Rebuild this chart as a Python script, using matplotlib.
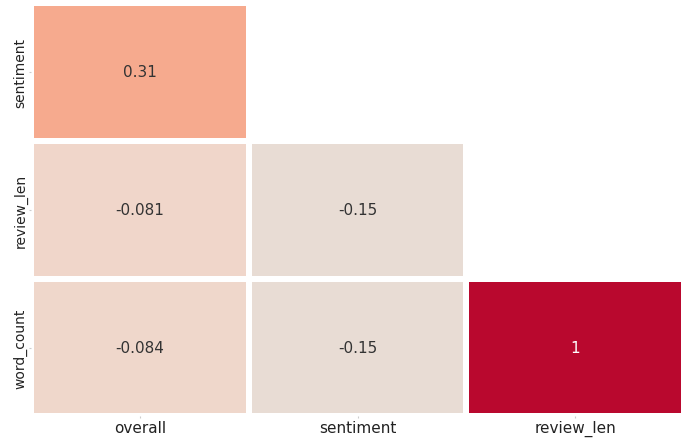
import numpy as np
import matplotlib
matplotlib.use("Agg")
import matplotlib.pyplot as plt
from matplotlib.colors import LinearSegmentedColormap
import seaborn as sns

row_labels = ["sentiment", "review_len", "word_count"]
col_labels = ["overall", "sentiment", "review_len"]
row_sentiment = [0.31, np.nan, np.nan]
row_review_len = [-0.081, -0.15, np.nan]
row_word_count = [-0.084, -0.15, 1.0]

data = np.array([row_sentiment, row_review_len, row_word_count])
mask = np.isnan(data)

# warm diverging-like colormap (light greyish beige -> salmon -> crimson)
cmap = LinearSegmentedColormap.from_list(
    "warm",
    [(0.0, (232/255, 220/255, 212/255)),
     (0.06, (240/255, 214/255, 202/255)),
     (0.40, (246/255, 170/255, 142/255)),
     (0.70, (226/255, 104/255, 84/255)),
     (1.0, (185/255, 8/255, 46/255))])

fig = plt.figure(figsize=(6.86, 4.39), dpi=100)
ax = fig.add_axes([0.0452, 0.049, 0.952, 0.942])
sns.heatmap(data, mask=mask, annot=True, cmap=cmap, vmin=-0.15, vmax=1,
            linewidths=3, linecolor="white", cbar=False, ax=ax,
            xticklabels=col_labels, yticklabels=row_labels,
            annot_kws={"fontsize": 11})
for t in ax.texts:
    if t.get_text() != "1":
        t.set_color("#333333")
ax.tick_params(axis="both", length=1.5, pad=1.0, colors="#cccccc",
               labelcolor="#222222")
ax.set_yticklabels(row_labels, rotation=90, va="center", fontsize=10)
ax.set_xticklabels(col_labels, rotation=0, fontsize=11)
fig.savefig("out.png", dpi=100)
